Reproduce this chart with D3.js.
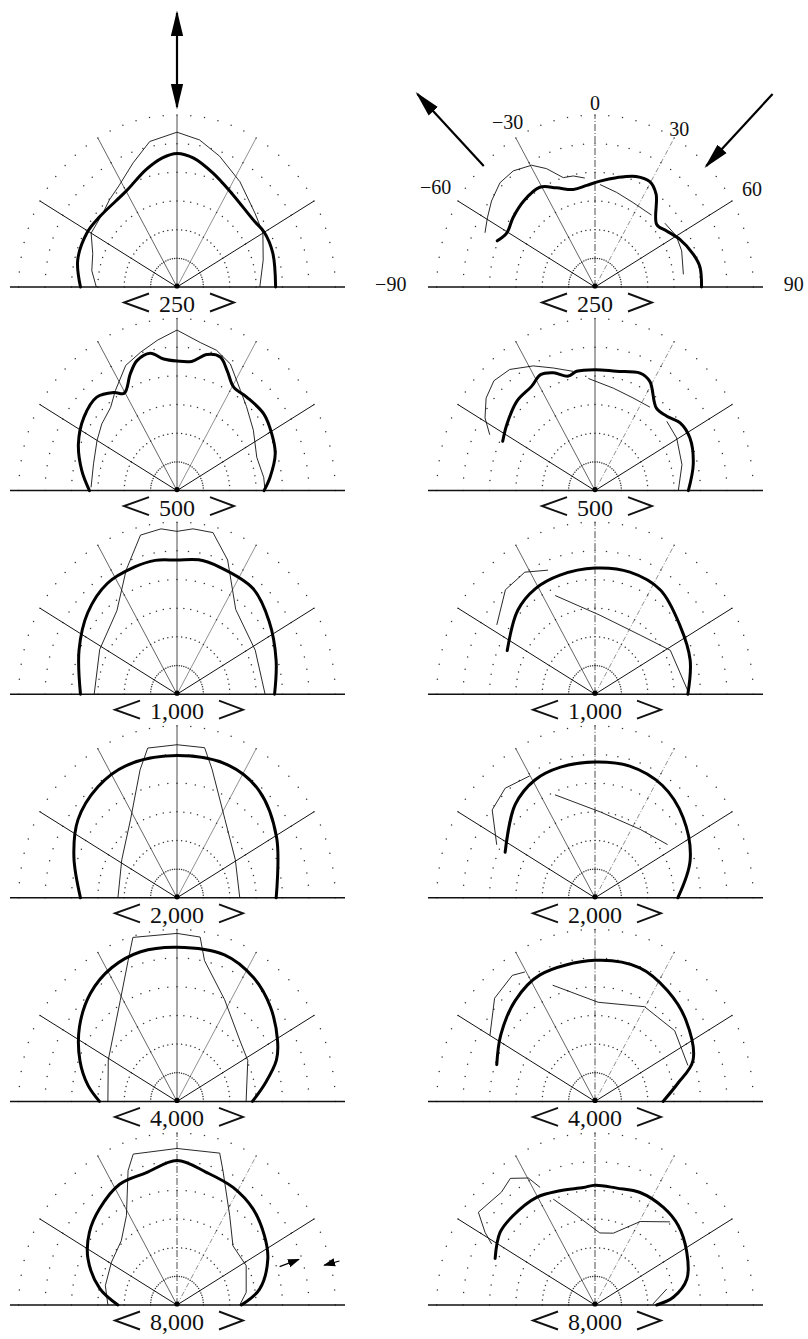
<!DOCTYPE html>
<html><head><meta charset="utf-8">
<script src="https://cdn.jsdelivr.net/npm/d3@7"></script>
<style>body{margin:0;background:#fff}svg{display:block}</style>
</head><body>
<svg id="chart" width="808" height="1339"></svg>
<script>
// ---------- data ----------
const frequencies = ["250", "500", "1,000", "2,000", "4,000", "8,000"];
const columns = ["L", "R"];
const spokeAngles = [-60, -30, 0, 30, 60];
const ringLevels = [-25, -20, -15, -10, -5, 0];
const angleLabels = [-90, -60, -30, 0, 30, 60, 90];

// [angle (deg), level (dB)] ; null = gap
const thickL250 = [[-90,-11.7],[-76,-10.6],[-61,-10.5],[-50,-10.9],[-30,-10.7],[-16,-8.7],[-7,-7.3],[0,-6.7],[8,-7.3],[19,-9.0],[33,-10.7],[51,-11.4],[60,-10.9],[72,-10.9],[90,-11.3]];
const thinL250 = [[-90,-14.7],[-80,-13.6],[-70,-13.0],[-60,-11.2],[-47,-10.9],[-40,-10.1],[-32,-9.2],[-21,-6.8],[-11.5,-4.1],[0,-3.0],[9.5,-4.0],[19.5,-5.8],[33,-8.1],[49,-10.4],[60,-11.2],[74,-13.0],[90,-14.3]];
const thickR250 = [[-66.5,-9.8],[-60.5,-10.8],[-52,-10.3],[-42,-9.8],[-31,-9.7],[-23,-11.2],[-13.6,-12.5],[-5,-12.2],[3,-11.5],[12,-10.5],[22,-9.2],[29.5,-8.9],[35.6,-10.1],[47,-14.0],[54,-13.3],[62.7,-11.9],[73,-10.5],[80,-9.8],[90,-9.8]];
const thinR250 = [[-65.6,-7.1],[-59.4,-6.3],[-52.6,-5.3],[-44.7,-4.4],[-37.4,-4.5],[-29.5,-5.6],[-24,-7.4],[-17.5,-10.0],[-12,-10.2],[-5.8,-10.9],null,[3,-12.1],[14,-13.0],[26,-13.6],[40.5,-13.5],null,[50,-12.7],[60,-12.2],[69,-12.4],[82.5,-13.1]];

const thickL500 = [[-90,-13.4],[-79,-11.6],[-66.4,-9.6],[-54,-8.2],[-43,-7.7],[-35,-9.1],[-30.5,-10.3],[-23.5,-7.8],[-18.5,-6.1],[-12,-5.5],[-6.3,-6.9],[0,-7.4],[7,-7.3],[13.5,-5.6],[19.4,-5.3],[24.4,-7.0],[30.8,-9.0],[39,-9.0],[51,-8.8],[61.3,-9.5],[71,-10.3],[82.5,-12.2],[90,-13.5]];
const thinL500 = [[-88,-13.7],[-73.6,-13.5],[-60,-12.5],[-50.8,-11.6],[-41,-10.8],[-33.8,-9.0],[-24,-6.1],[-16,-4.9],[-8,-3.5],[0,-2.0],[9.7,-3.8],[17,-4.4],[24.6,-5.7],[34.6,-8.8],[42,-10.3],[54,-12.1],[69,-13.8],[82,-13.4],[90,-13.3]];
const thickR500 = [[-63.8,-10.5],[-55.5,-9.7],[-43.6,-8.5],[-33.5,-8.2],[-27,-7.3],[-21,-8.0],[-14.2,-9.4],[-9.5,-8.9],[0,-8.9],[11,-8.8],[22.6,-7.8],[28.6,-8.3],[39,-11.5],[46.4,-11.2],[53.8,-10.0],[63,-9.8],[76,-10.8],[90,-12.3]];
const thinR500 = [[-64,-7.8],[-58.7,-5.6],[-52,-3.8],[-45,-2.9],[-37.4,-3.4],[-28.3,-5.3],[-20.3,-7.2],[-11.2,-8.8],null,[-3.7,-10.4],[11,-11.8],[24,-12.3],[35.6,-12.1],null,[48.4,-11.8],[59.3,-12.0],[74.6,-12.9],[90,-14.2]];

const thickL1000 = [[-90,-11.7],[-67.5,-9.9],[-50,-7.9],[-34.4,-6.6],[-19.6,-6.4],[-10,-6.3],[0,-6.6],[10,-6.2],[20,-6.4],[38,-6.6],[54,-8.4],[72.5,-10.3],[90,-11.5]];
const thinL1000 = [[-90,-14.3],[-62,-13.4],[-38,-11.5],[-24,-6.3],[-14,-1.4],[-6,-1.0],[0,-1.6],[6,-1.0],[13.6,-1.0],[22.3,-4.7],[37,-11.5],[62.6,-13.3],[90,-13.3]];
const thickR1000 = [[-65.4,-11.7],[-45,-9.3],[-31.5,-8.4],[-17.7,-8.2],[0,-8.0],[17.3,-7.7],[34.3,-8.0],[53,-9.9],[71.7,-11.0],[90,-12.4]];
const thinR1000 = [[-57,-7.8],[-43,-5.1],[-32,-4.9],[-22.4,-6.6],null,[-23.7,-11.2],[4,-16.2],[39.7,-16.6],[61.8,-13.8],[88,-12.4]];

const thickL2000 = [[-90,-11.7],[-70,-9.2],[-54,-6.8],[-37.7,-5.5],[-22.9,-5.0],[0,-5.2],[23,-4.9],[40,-5.7],[61,-8.4],[90,-11.2]];
const thinL2000 = [[-90,-18.8],[-57.6,-17.6],[-33,-13.8],[-17.4,-6.6],[-12,-3.3],[0,-3.3],[11.3,-3.3],[16.5,-6.6],[33.7,-13.6],[59,-17.1],[90,-18.1]];
const thickR2000 = [[-65,-11.2],[-43,-7.8],[-29,-6.5],[-16,-6.3],[0,-6.3],[16,-6.1],[33,-6.6],[50,-8.2],[70,-10.8],[90,-14.3]];
const thinR2000 = [[-63.6,-9.2],[-51.8,-5.2],[-41.7,-4.4],[-30.2,-5.4],null,[-22.9,-10.5],[4,-15.0],[35.8,-15.3],[56,-13.4]];

const thickL4000 = [[-90,-15.3],[-80.6,-12.9],[-69,-10.3],[-54.9,-7.4],[-41,-5.0],[-28,-3.6],[-14.8,-3.0],[0,-3.1],[19.4,-2.9],[34,-4.0],[47,-5.8],[61,-8.2],[69,-9.8],[79,-12.9],[90,-15.7]];
const thinL4000 = [[-90,-16.9],[-61,-15.1],[-31.5,-9.4],[-20.6,-3.7],[-16.3,-0.2],[0,-0.7],[8.7,-1.0],[12,-4.9],[27,-10.1],[48,-14.0],[62,-14.8],[90,-16.9]];
const thickR4000 = [[-71,-10.3],[-57,-8.7],[-40.7,-6.8],[-25.5,-5.6],[0,-5.4],[20,-5.2],[35.5,-6.3],[50.7,-7.7],[69,-10.1],[79,-14.1],[90,-17.1]];
const thinR4000 = [[-60,-7.0],[-46.6,-3.8],[-35.5,-3.0],[-30.5,-3.8],null,[-21.6,-8.2],[2,-12.7],[29.6,-11.0],[50.8,-10.5],[70.4,-11.3]];

const thickL8000 = [[-90,-18.8],[-79,-15.1],[-64.5,-11.3],[-52.6,-9.1],[-41.2,-7.7],[-27.3,-6.3],[-14.1,-6.2],[0,-4.8],[13.5,-6.2],[27.4,-6.9],[40.7,-7.9],[54,-9.5],[65,-11.0],[80,-14.1],[90,-17.8]];
const thinL8000 = [[-90,-16.9],[-76,-16.0],[-59,-15.5],[-43.3,-14.6],[-31.6,-11.7],[-21.6,-4.8],[-17.5,-2.4],[0,-2.7],[17,-2.3],[20.4,-5.0],[32.7,-11.5],[45.8,-15.2],[62.4,-15.2],[80.5,-16.7],[90,-18.1]];
const thickR8000 = [[-66.8,-9.4],[-54.9,-8.0],[-44.8,-8.0],[-30.5,-8.2],[-18.4,-9.0],[-6.1,-9.4],[0,-9.1],[11.5,-9.2],[23.5,-8.6],[37.3,-8.6],[48.8,-9.0],[62,-10.3],[75.4,-12.0],[84.8,-15.1],[90,-18.3]];
const thinR8000 = [[-61.5,-7.7],[-58.7,-5.6],[-53.8,-2.6],[-42,-3.5],[-36,-2.7],[-29.7,-4.5],[-26.9,-7.0],null,[-23.2,-9.9],[-12.6,-14.0],[4.2,-17.4],[15.5,-17.0],[30.5,-13.1],[44.4,-9.7],null,[78.4,-16.1],[89,-19.0]];

const thickSeries = {L: [thickL250, thickL500, thickL1000, thickL2000, thickL4000, thickL8000],
                     R: [thickR250, thickR500, thickR1000, thickR2000, thickR4000, thickR8000]};
const thinSeries  = {L: [thinL250, thinL500, thinL1000, thinL2000, thinL4000, thinL8000],
                     R: [thinR250, thinR500, thinR1000, thinR2000, thinR4000, thinR8000]};

// ---------- layout ----------
const XS = 0.92;                         // horizontal squeeze of the original plot
const svg = d3.select("#chart");
const rowY = d3.scaleLinear().domain([0, 5]).range([287, 1305]);
const colX = d3.scaleOrdinal().domain(columns).range([177, 595]);
const rScale = d3.scaleLinear().domain([-30, 0]).range([0, 172]);
const aScale = d3.scaleLinear().domain([-90, 90]).range([-Math.PI / 2, Math.PI / 2]);
const SERIF = "'Liberation Serif','DejaVu Serif',serif";

function px(cx, ang, r) { return cx + XS * r * Math.sin(aScale(ang)); }
function py(cy, ang, r) { return cy - r * Math.cos(aScale(ang)); }

function spokeStyle(col, row, a) {
  if (Math.abs(a) === 60) return {w: 1.0, dash: null, c: "#111"};
  if (a === 0) {
    const dashed = (col === "R" && row !== 1) || (col === "L" && row === 5);
    return {w: 0.8, dash: dashed ? "7,2,1,2" : null, c: "#222"};
  }
  if (a === 30) {
    const dashed = col === "R" || row === 5;
    return {w: 0.6, dash: dashed ? "5,2,1,2" : null, c: "#444"};
  }
  return {w: 0.7, dash: null, c: "#222"};
}

frequencies.forEach((freq, row) => {
  columns.forEach(col => {
    const cx = colX(col), cy = rowY(row);
    const g = svg.append("g");

    // dotted rings
    ringLevels.forEach(lv => {
      const r = rScale(lv);
      g.selectAll(null).data(d3.range(-90, 90.1, 5)).enter().append("circle")
        .attr("cx", a => px(cx, a, r)).attr("cy", a => py(cy, a, r))
        .attr("r", 0.75).attr("fill", "#333");
    });

    // baseline
    g.append("line").attr("x1", cx - 167).attr("x2", cx + 168)
      .attr("y1", cy).attr("y2", cy).attr("stroke", "#111").attr("stroke-width", 1.5);

    // spokes
    spokeAngles.forEach(a => {
      const s = spokeStyle(col, row, a);
      g.append("line").attr("x1", cx).attr("y1", cy)
        .attr("x2", px(cx, a, rScale(0))).attr("y2", py(cy, a, rScale(0)))
        .attr("stroke", s.c).attr("stroke-width", s.w)
        .attr("stroke-dasharray", s.dash);
    });

    // center mark
    g.append("circle").attr("cx", cx).attr("cy", cy - 1).attr("r", 2.6).attr("fill", "#000");

    // curves
    const line = d3.line().defined(d => d != null)
      .x(d => px(cx, d[0], rScale(d[1]))).y(d => py(cy, d[0], rScale(d[1])));
    g.append("path").attr("d", line.curve(d3.curveLinear)(thinSeries[col][row]))
      .attr("fill", "none").attr("stroke", "#111").attr("stroke-width", 0.9)
      .attr("stroke-linejoin", "round");
    g.append("path").attr("d", line.curve(d3.curveCatmullRom.alpha(0.5))(thickSeries[col][row]))
      .attr("fill", "none").attr("stroke", "#000").attr("stroke-width", 3)
      .attr("stroke-linejoin", "round").attr("stroke-linecap", "round");

    // frequency label with angle brackets
    const t = g.append("text").attr("x", cx).attr("y", cy + 25)
      .attr("text-anchor", "middle").attr("font-family", SERIF).attr("font-size", 24)
      .attr("fill", "#111").text(freq);
    const hw = t.node().getComputedTextLength() / 2;
    const by = cy + 15.5;
    g.append("path").attr("d", `M${cx - hw - 10},${by - 9}L${cx - hw - 35},${by}L${cx - hw - 10},${by + 9}`)
      .attr("fill", "none").attr("stroke", "#111").attr("stroke-width", 1.9);
    g.append("path").attr("d", `M${cx + hw + 15},${by - 9}L${cx + hw + 39},${by}L${cx + hw + 15},${by + 9}`)
      .attr("fill", "none").attr("stroke", "#111").attr("stroke-width", 1.9);
  });
});

// ---------- annotations ----------
const defs = svg.append("defs");
defs.append("marker").attr("id", "ah").attr("viewBox", "0 0 10 10")
  .attr("refX", 9).attr("refY", 5).attr("markerWidth", 12).attr("markerHeight", 12)
  .attr("markerUnits", "userSpaceOnUse").attr("orient", "auto-start-reverse")
  .append("path").attr("d", "M0,1.5L10,5L0,8.5Z").attr("fill", "#000");
defs.append("marker").attr("id", "ahBig").attr("viewBox", "0 0 10 10")
  .attr("refX", 9).attr("refY", 5).attr("markerWidth", 26).attr("markerHeight", 26)
  .attr("markerUnits", "userSpaceOnUse").attr("orient", "auto-start-reverse")
  .append("path").attr("d", "M0,2.6L10,5L0,7.4Z").attr("fill", "#000");

// arrows: [column, angle, from radius(px), to radius(px), double]
const arrows = [["L", 0, 180, 274, true], ["R", -45, 171, 273, false], ["R", 45, 273, 171, false]];
arrows.forEach(([col, a, r0, r1, dbl]) => {
  const cx = colX(col), cy = rowY(0);
  svg.append("line")
    .attr("x1", px(cx, a, r0)).attr("y1", py(cy, a, r0))
    .attr("x2", px(cx, a, r1)).attr("y2", py(cy, a, r1))
    .attr("stroke", "#000").attr("stroke-width", 2.2)
    .attr("marker-end", "url(#ahBig)").attr("marker-start", dbl ? "url(#ahBig)" : null);
});

// small arrows in the 8,000 left panel
const smallArrows = [[71, 118, 140], [76, 182, 165]];
smallArrows.forEach(([a, r0, r1]) => {
  const cx = colX("L"), cy = rowY(5);
  svg.append("line")
    .attr("x1", px(cx, a, r0)).attr("y1", py(cy, a, r0))
    .attr("x2", px(cx, a, r1)).attr("y2", py(cy, a, r1))
    .attr("stroke", "#000").attr("stroke-width", 1.2).attr("marker-end", "url(#ah)");
});

// angle labels on the first right panel
const labelR = {"-90": 222, "-60": 200, "-30": 190, "0": 184, "30": 183, "60": 197, "90": 216};
angleLabels.forEach(a => {
  const cx = colX("R"), cy = rowY(0), r = labelR[a];
  const isSide = Math.abs(a) === 90;
  svg.append("text")
    .attr("x", px(cx, a, r)).attr("y", py(cy, a, r) + (isSide ? -3 : 0))
    .attr("text-anchor", "middle").attr("dominant-baseline", "central")
    .attr("font-family", SERIF).attr("font-size", 20).attr("fill", "#111")
    .text(a < 0 ? "\u2212" + Math.abs(a) : String(a));
});
</script>
</body></html>
